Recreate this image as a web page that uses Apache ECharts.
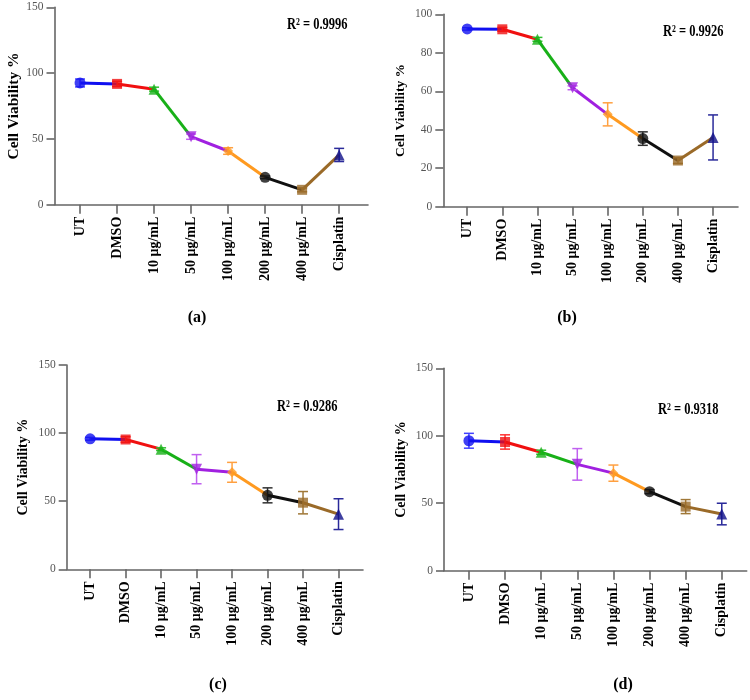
<!DOCTYPE html>
<html>
<head>
<meta charset="utf-8">
<script src="https://cdn.jsdelivr.net/npm/echarts@6/dist/echarts.min.js"></script>
<style>
html,body{margin:0;padding:0;background:#fff;}
#main{width:750px;height:700px;}
</style>
</head>
<body>
<div id="main"></div>
<script>
const categories = ['UT','DMSO','10 μg/mL','50 μg/mL','100 μg/mL','200 μg/mL','400 μg/mL','Cisplatin'];
const meanA = [92.5, 91.8, 87.8, 51.7, 40.8, 20.8, 11.3, 37.8];
const errA  = [3.0, 2.0, 1.5, 2.0, 2.5, 1.0, 1.5, 5.0];
const meanB = [92.4, 92.2, 87.0, 61.8, 48.0, 35.4, 24.0, 36.0];
const errB  = [0.6, 1.0, 1.0, 1.0, 6.0, 3.5, 1.5, 11.7];
const meanC = [95.8, 95.3, 88.2, 73.5, 71.2, 54.3, 48.9, 40.5];
const errC  = [1.0, 2.0, 1.0, 10.7, 7.3, 5.5, 8.2, 11.3];
const meanD = [96.3, 95.4, 87.8, 78.8, 72.3, 58.6, 47.5, 42.0];
const errD  = [5.5, 5.3, 1.5, 11.7, 6.0, 1.5, 5.2, 8.0];
const r2Labels = ['0.9996', '0.9926', '0.9286', '0.9318'];
const panelLabels = ['(a)', '(b)', '(c)', '(d)'];
const yMax = [150, 100, 150, 150];
const yStep = [50, 20, 50, 50];

const colors = ['#1010f0', '#f01010', '#18b018', '#a020e0', '#ff9a20', '#101010', '#9a6a28', '#10108a'];
const errColors = ['#4040ff', '#ff3030', '#30c030', '#c060f0', '#ffa040', '#303030', '#a07838', '#2a2a9a'];
const symbols = ['circle', 'rect', 'triangle', 'triangle', 'diamond', 'circle', 'rect', 'triangle'];
const rotations = [0, 0, 0, 180, 0, 0, 0, 0];

const means = [meanA, meanB, meanC, meanD];
const errs = [errA, errB, errC, errD];

// layout
const grids = [
  {left: 54.5, top: 7.3, width: 313.5, height: 197.4},
  {left: 443.3, top: 14.3, width: 294.7, height: 192.4},
  {left: 66.7, top: 365, width: 296.3, height: 204.3},
  {left: 444, top: 368.3, width: 302.7, height: 202.4}
];
const xRange = [[-0.69, 7.78], [-0.68, 7.71], [-0.66, 7.69], [-0.69, 7.69]];
const nameGaps = [31, 36, 36, 36];
const nameSizes = [15.5, 13.5, 14, 14];
const r2Pos = [[287, 25], [663, 32], [277, 407], [658, 410]];
const panelPos = [[197, 318], [567, 318], [218, 685], [623, 685]];

const FONT = 'Liberation Serif';
const axisColor = '#666';
const idx = categories.map((_, i) => i);

const xAxes = [], yAxes = [], series = [], graphics = [];
for (let p = 0; p < 4; p++) {
  xAxes.push({
    gridIndex: p, type: 'value', min: xRange[p][0], max: xRange[p][1],
    axisLine: {show: true, onZero: false, lineStyle: {color: axisColor, width: 1.6}},
    axisTick: {show: true, length: 9, customValues: idx, lineStyle: {color: axisColor, width: 1.6}},
    axisLabel: {show: true, customValues: idx, rotate: 90, margin: 12, color: '#000',
      fontFamily: FONT, fontWeight: 'bold', fontSize: 14,
      formatter: v => categories[Math.round(v)] || ''},
    splitLine: {show: false}
  });
  yAxes.push({
    gridIndex: p, type: 'value', min: 0, max: yMax[p], interval: yStep[p],
    name: 'Cell Viability %', nameLocation: 'middle', nameGap: nameGaps[p],
    nameTextStyle: {fontFamily: FONT, fontWeight: 'bold', fontSize: nameSizes[p], color: '#000'},
    axisLine: {show: true, onZero: false, lineStyle: {color: axisColor, width: 1.6}},
    axisTick: {show: true, length: 8, lineStyle: {color: axisColor, width: 1.6}},
    axisLabel: {margin: 11, color: '#555', fontFamily: FONT, fontSize: 11.5},
    splitLine: {show: false}
  });
  const m = means[p], e = errs[p];
  // colored line segments
  for (let i = 0; i < m.length - 1; i++) {
    series.push({
      type: 'line', xAxisIndex: p, yAxisIndex: p, z: 2,
      data: [[i, m[i]], [i + 1, m[i + 1]]],
      showSymbol: false, symbol: 'none', silent: true,
      lineStyle: {color: colors[i], width: 3}
    });
  }
  // error bars
  series.push({
    type: 'custom', xAxisIndex: p, yAxisIndex: p, z: 3,
    data: m.map((v, i) => ({value: [i, v - e[i], v + e[i]], itemStyle: {color: errColors[i]}})),
    renderItem: function (params, api) {
      const x = api.value(0);
      const lo = api.coord([x, api.value(1)]);
      const hi = api.coord([x, api.value(2)]);
      const c = api.visual('color');
      const w = 5;
      const st = {stroke: c, lineWidth: 1.5};
      return {type: 'group', children: [
        {type: 'line', shape: {x1: lo[0], y1: lo[1], x2: hi[0], y2: hi[1]}, style: st},
        {type: 'line', shape: {x1: lo[0] - w, y1: lo[1], x2: lo[0] + w, y2: lo[1]}, style: st},
        {type: 'line', shape: {x1: hi[0] - w, y1: hi[1], x2: hi[0] + w, y2: hi[1]}, style: st}
      ]};
    }
  });
  // markers
  series.push({
    type: 'scatter', xAxisIndex: p, yAxisIndex: p, z: 4,
    data: m.map((v, i) => ({value: [i, v], symbol: symbols[i], symbolRotate: rotations[i],
      symbolSize: symbols[i] === 'rect' ? 10 : (symbols[i] === 'diamond' ? 10 : 11),
      itemStyle: {color: colors[i]}}))
  });
  graphics.push({
    type: 'text', x: r2Pos[p][0], y: r2Pos[p][1], scaleX: 0.78,
    style: {
      text: '{b|R}{s|2}{b| = ' + r2Labels[p] + '}',
      verticalAlign: 'middle', align: 'left',
      rich: {
        b: {fontFamily: FONT, fontWeight: 'bold', fontSize: 16, fill: '#000', color: '#000'},
        s: {fontFamily: FONT, fontWeight: 'bold', fontSize: 10, verticalAlign: 'top', fill: '#000', color: '#000'}
      }
    }
  });
  graphics.push({
    type: 'text', x: panelPos[p][0], y: panelPos[p][1],
    style: {text: panelLabels[p], align: 'center', verticalAlign: 'middle',
      font: 'bold 16px "Liberation Serif"', fill: '#000'}
  });
}

const chart = echarts.init(document.getElementById('main'), null, {renderer: 'canvas'});
chart.setOption({
  backgroundColor: '#fff',
  animation: false,
  grid: grids,
  xAxis: xAxes,
  yAxis: yAxes,
  series: series,
  graphic: graphics
});
</script>
</body>
</html>
